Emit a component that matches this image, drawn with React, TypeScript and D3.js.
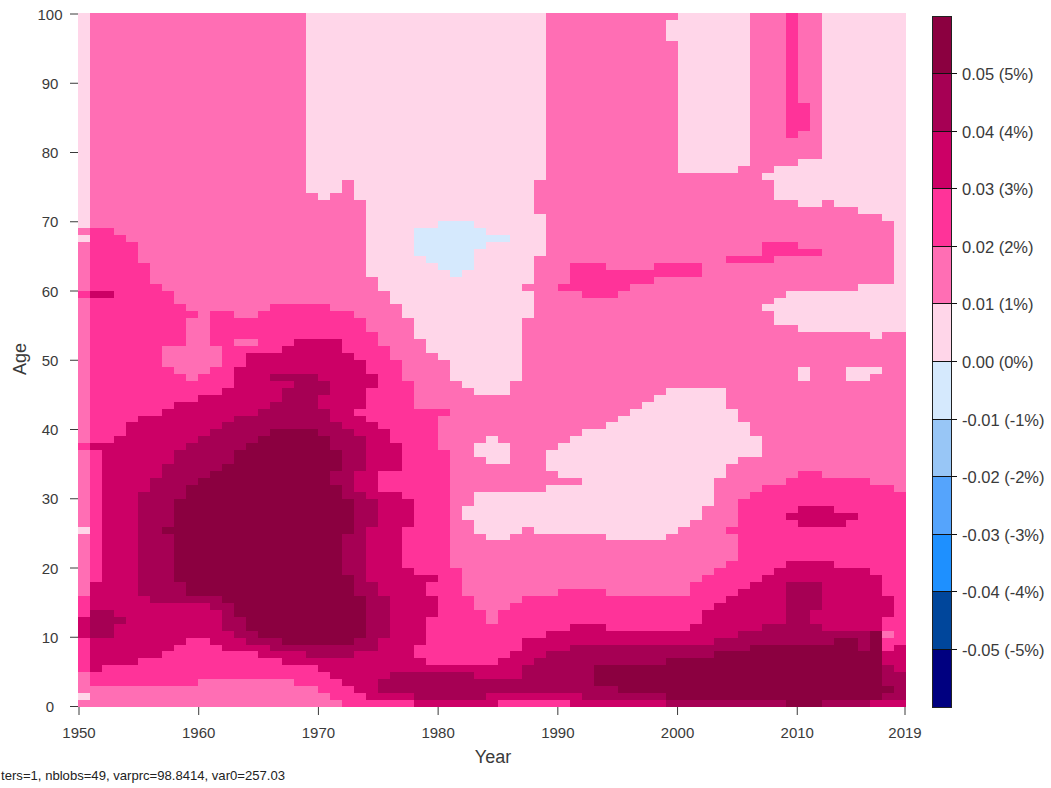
import React from "react";
import * as d3 from "d3";

// Each string is one year, from age 0 upward: "level:endAge" (endAge exclusive).
// Level 0 = -1..0 %, 1 = 0..1 %, 2 = 1..2 %, ... 6 = 5..6 %.
const firstYear = 1950;
const yearRuns: string[] = [
  "2:1 1:2 2:5 3:10 4:13 3:16 2:25 1:26 2:37 3:38 2:59 3:60 2:67 1:68 2:69 1:100",
  "2:3 3:5 4:10 5:14 4:18 3:37 4:38 3:59 4:60 3:69 2:100",
  "2:3 3:6 4:10 5:14 4:38 3:59 4:60 3:69 2:100",
  "2:3 3:6 4:12 5:13 4:39 3:68 2:100",
  "2:3 3:6 4:41 3:67 2:100",
  "2:3 3:7 4:16 5:31 4:42 3:64 2:100",
  "2:3 3:7 4:15 5:33 4:42 3:61 2:100",
  "2:3 3:8 4:15 5:25 6:26 5:35 4:43 3:49 2:52 3:60 2:100",
  "2:3 3:9 4:15 5:18 6:30 5:37 4:44 3:48 2:52 3:58 2:100",
  "2:3 3:10 4:15 5:16 6:32 5:38 4:44 3:47 2:56 3:57 2:100",
  "2:4 3:10 4:15 5:16 6:33 5:39 4:45 3:48 2:100",
  "2:4 3:9 4:14 5:16 6:34 5:40 4:45 3:49 2:52 3:57 2:100",
  "2:4 3:8 4:11 5:15 6:35 5:41 4:46 3:57 2:100",
  "2:4 3:8 4:10 5:13 6:37 5:42 4:49 3:52 2:53 3:56 2:100",
  "2:4 3:8 4:9 5:11 6:38 5:42 4:51 3:52 2:53 3:56 2:100",
  "2:4 3:7 4:9 5:10 6:39 5:43 4:51 3:57 2:100",
  "2:4 3:7 4:8 5:10 6:40 5:44 4:47 5:48 4:51 3:58 2:100",
  "2:4 3:6 4:8 5:9 6:40 5:46 4:47 5:48 4:52 3:58 2:100",
  "2:3 3:6 4:8 5:9 6:40 5:48 4:53 3:58 2:100",
  "2:3 3:6 4:7 5:9 6:40 5:48 4:53 3:58 2:74 1:100",
  "2:2 3:5 4:7 5:9 6:39 5:43 4:45 5:47 4:53 3:58 2:73 1:100",
  "2:1 3:4 4:7 5:9 6:32 5:34 6:37 5:41 4:53 3:57 2:74 1:100",
  "3:3 4:7 5:9 6:19 5:25 6:30 5:40 4:51 3:57 2:76 1:100",
  "3:2 4:8 5:10 6:16 5:31 4:34 5:39 4:42 3:43 4:50 3:56 2:73 1:100",
  "3:1 4:8 5:18 4:26 5:30 4:41 3:46 4:48 3:54 2:62 1:100",
  "3:1 4:2 5:4 4:10 5:16 4:31 3:34 4:40 3:52 2:60 1:100",
  "3:1 4:2 5:5 4:31 3:34 4:38 3:50 2:58 1:100",
  "3:1 4:2 5:5 4:20 3:26 4:30 3:47 2:56 1:100",
  "4:1 5:5 4:7 3:9 4:19 3:43 2:53 1:65 0:69 1:100",
  "4:1 5:5 4:6 3:13 4:16 3:18 4:19 3:43 2:51 1:64 0:69 1:100",
  "4:1 5:5 4:6 3:37 2:42 3:43 2:50 1:63 0:70 1:100",
  "4:1 5:5 4:6 3:20 2:47 1:62 0:70 1:100",
  "4:1 5:5 4:6 3:16 2:27 1:29 2:46 1:63 0:70 1:100",
  "4:1 5:4 4:6 3:14 2:25 1:31 2:36 1:38 2:45 1:66 0:69 1:100",
  "4:2 5:4 4:6 3:12 2:24 1:31 2:35 1:39 2:45 1:67 0:68 1:100",
  "3:1 4:2 5:4 4:7 3:14 2:24 1:31 2:35 1:38 2:45 1:67 0:68 1:100",
  "3:1 4:2 5:4 4:8 3:15 2:25 1:31 2:47 1:100",
  "3:1 4:2 5:6 4:10 3:16 2:26 1:31 2:56 1:60 2:61 1:100",
  "3:1 4:2 5:7 4:10 3:16 2:25 1:31 2:65 1:71 2:76 1:100",
  "3:1 4:2 5:8 4:11 3:16 2:25 1:32 2:34 1:37 2:100",
  "3:1 4:2 5:8 4:11 3:17 2:25 1:32 2:33 1:38 2:60 3:61 2:100",
  "4:2 5:9 4:12 3:17 2:25 1:32 2:33 1:39 2:60 3:64 2:100",
  "4:1 5:9 4:12 3:17 2:25 1:40 2:59 3:64 2:100",
  "4:1 5:3 6:6 5:9 4:12 3:17 2:25 1:40 2:59 3:64 2:100",
  "4:1 5:3 6:6 5:9 4:11 3:16 2:24 1:41 2:59 3:63 2:100",
  "4:1 5:2 6:6 5:9 4:11 3:16 2:24 1:42 2:60 3:63 2:100",
  "4:1 5:2 6:6 5:9 4:11 3:16 2:24 1:43 2:61 3:63 2:100",
  "4:1 5:2 6:6 5:9 4:11 3:16 2:24 1:44 2:61 3:63 2:100",
  "4:1 5:2 6:6 5:9 4:11 3:16 2:24 1:45 2:62 3:64 2:100",
  "5:1 6:7 5:9 4:11 3:16 2:25 1:46 2:62 3:64 2:96 1:99 2:100",
  "5:1 6:7 5:9 4:11 3:16 2:26 1:46 2:62 3:64 2:77 1:100",
  "5:1 6:7 5:9 4:12 3:18 2:27 1:46 2:62 3:64 2:77 1:100",
  "5:1 6:7 5:9 4:14 3:19 2:29 1:46 2:77 1:100",
  "5:1 6:8 5:10 4:15 3:20 2:33 1:46 2:77 1:100",
  "5:1 6:8 5:10 4:16 3:21 2:25 3:26 2:35 1:43 2:64 3:65 2:77 1:100",
  "5:1 6:8 5:11 4:17 3:30 2:36 1:41 2:64 3:65 2:78 1:100",
  "5:1 6:9 5:11 4:18 3:31 2:36 1:39 2:64 3:65 2:100",
  "5:1 6:9 5:12 4:19 3:32 2:57 1:58 2:64 3:67 2:76 1:77 2:100",
  "5:1 6:9 5:12 4:20 3:32 2:55 1:59 2:65 3:67 2:73 1:78 2:100",
  "6:9 5:18 4:21 3:27 4:28 3:33 2:55 1:60 2:65 3:67 2:73 1:78 2:82 3:100",
  "6:9 5:18 4:21 3:26 4:29 3:34 2:47 1:49 2:54 1:60 2:65 3:66 2:72 1:79 2:83 3:87 2:100",
  "6:9 5:12 4:14 5:18 4:21 3:26 4:29 3:34 2:54 1:60 2:65 3:66 2:72 1:79 2:100",
  "5:1 6:9 5:11 4:21 3:26 4:29 3:33 2:54 1:60 2:73 1:100",
  "5:1 6:10 5:11 4:20 3:26 4:28 3:33 2:54 1:60 2:72 1:100",
  "5:1 6:10 5:11 4:20 3:27 4:28 3:33 2:47 1:49 2:54 1:60 2:72 1:100",
  "5:1 6:8 5:11 4:20 3:33 2:47 1:49 2:54 1:61 2:71 1:100",
  "4:1 6:11 4:19 3:32 2:48 1:49 2:53 1:61 2:71 1:100",
  "4:1 5:2 6:3 5:6 4:8 3:10 2:11 3:13 4:16 3:32 2:54 1:61 2:70 1:100",
  "4:1 5:5 4:9 3:31 2:54 1:100",
];

const binColors = [
  "#000080", "#00469B", "#1E90FF", "#55A4FC", "#98C6F6", "#D5E9FD",
  "#FFD6E9", "#FF6EB4", "#FF3399", "#CC0066", "#A60054", "#8B0040",
];
const binEdges = [-0.06, -0.05, -0.04, -0.03, -0.02, -0.01, 0, 0.01, 0.02, 0.03, 0.04, 0.05, 0.06];
const legendTicks = [-0.05, -0.04, -0.03, -0.02, -0.01, 0, 0.01, 0.02, 0.03, 0.04, 0.05];
const legendLabels = [
  "-0.05 (-5%)", "-0.04 (-4%)", "-0.03 (-3%)", "-0.02 (-2%)", "-0.01 (-1%)", "0.00 (0%)",
  "0.01 (1%)", "0.02 (2%)", "0.03 (3%)", "0.04 (4%)", "0.05 (5%)",
];
const yearTicks = [1950, 1960, 1970, 1980, 1990, 2000, 2010, 2019];
const ageTicks = [0, 10, 20, 30, 40, 50, 60, 70, 80, 90, 100];
const footer = "ters=1, nblobs=49, varprc=98.8414, var0=257.03";

const cx = d3.scaleLinear().domain([1950, 2019]).range([78, 906]);
const cy = d3.scaleLinear().domain([0, 100]).range([707, 13]);
const tx = d3.scaleLinear().domain([1950, 2019]).range([79, 905]);
const ty = d3.scaleLinear().domain([0, 100]).range([706.5, 14]);
const ly = d3.scaleLinear().domain([-0.06, 0.06]).range([707, 16]);

const parseRuns = (s: string) => {
  let from = 0;
  return s.split(" ").map((r) => {
    const [level, end] = r.split(":").map(Number);
    const run = { level, from, to: end };
    from = end;
    return run;
  });
};

const font = "'Liberation Sans', Arial, sans-serif";
const ink = "#3a3a3a";

export default function App() {
  return (
    <svg
      width={1051}
      height={788}
      style={{ position: "fixed", left: 0, top: 0, display: "block", background: "#fff" }}
      fontFamily={font}
    >
      <g shapeRendering="crispEdges">
        {yearRuns.map((s, i) =>
          parseRuns(s).map((r) => (
            <rect
              key={`${i}-${r.from}`}
              x={cx(firstYear + i)}
              width={cx(firstYear + i + 1) - cx(firstYear + i)}
              y={cy(r.to)}
              height={cy(r.from) - cy(r.to)}
              fill={binColors[5 + r.level]}
            />
          ))
        )}
      </g>

      {yearTicks.map((t) => (
        <g key={t}>
          <line x1={tx(t)} x2={tx(t)} y1={707} y2={715} stroke={ink} strokeWidth={1} />
          <text x={tx(t)} y={738} textAnchor="middle" fontSize={15} fill={ink}>{t}</text>
        </g>
      ))}
      {ageTicks.map((t) => (
        <g key={t}>
          <line x1={70} x2={78} y1={ty(t)} y2={ty(t)} stroke={ink} strokeWidth={1} />
          <text x={50} y={ty(t) + 5.5} textAnchor="middle" fontSize={15} fill={ink}>{t}</text>
        </g>
      ))}
      <text x={493} y={763} textAnchor="middle" fontSize={18} fill={ink}>Year</text>
      <text transform="translate(26,359) rotate(-90)" textAnchor="middle" fontSize={18} fill={ink}>Age</text>
      <text x={285} y={780} textAnchor="end" fontSize={13.1} fill="#222">{footer}</text>

      <g shapeRendering="crispEdges">
        {binColors.map((c, i) => (
          <rect
            key={c}
            x={932}
            width={19}
            y={ly(binEdges[i + 1])}
            height={ly(binEdges[i]) - ly(binEdges[i + 1])}
            fill={c}
          />
        ))}
        <rect x={932} y={16} width={19} height={691} fill="none" stroke="#222" strokeWidth={1} />
      </g>
      {legendTicks.map((t, i) => (
        <g key={t}>
          <line x1={932} x2={957} y1={ly(t)} y2={ly(t)} stroke="#111" strokeWidth={1} shapeRendering="crispEdges" />
          <text x={962} y={ly(t) + 6.5} fontSize={16.5} fill={ink}>{legendLabels[i]}</text>
        </g>
      ))}
    </svg>
  );
}
